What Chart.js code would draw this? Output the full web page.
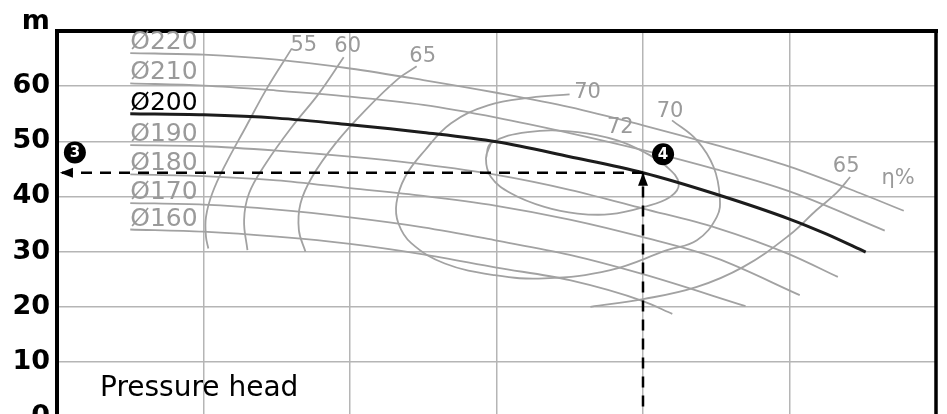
<!DOCTYPE html>
<html>
<head>
<meta charset="utf-8">
<script src="https://cdn.jsdelivr.net/npm/chart.js@4/dist/chart.umd.min.js"></script>
<style>
  html, body { margin: 0; padding: 0; background: #fff; overflow: hidden; }
  #wrap { width: 947px; height: 446px; }
</style>
</head>
<body>
<div id="wrap"><canvas id="c" width="947" height="446"></canvas></div>
<script>
// Axis ranges (flow Q in m³/h, head H in m)
const flowTicks = [0, 10, 20, 30, 40, 50, 60];
const headTicks = [0, 10, 20, 30, 40, 50, 60, 70];

// Impeller diameters and their Q-H curves
const impellers = ['Ø220', 'Ø210', 'Ø200', 'Ø190', 'Ø180', 'Ø170', 'Ø160'];
const q220 = [5, 10, 15, 20, 25, 30, 35, 40, 45, 50, 55, 57.8];
const h220 = [66.0, 65.7, 64.8, 63.2, 61.1, 58.8, 56.2, 52.9, 49.3, 45.4, 40.4, 37.4];
const q210 = [5, 10, 15, 20, 25, 30, 35, 40, 45, 50, 56.5];
const h210 = [60.5, 60.1, 59.2, 58.1, 56.6, 54.3, 51.5, 48.4, 44.9, 40.9, 33.8];
const q200 = [5, 10, 15, 20, 25, 30, 35, 40, 45, 50, 52.5, 55.2];
const h200 = [55.0, 54.8, 54.2, 53.0, 51.6, 49.9, 47.2, 44.3, 40.4, 35.9, 33.2, 29.9];
const q190 = [5, 10, 15, 20, 25, 30, 35, 40, 45, 50, 53.3];
const h190 = [49.3, 49.1, 48.3, 47.2, 45.8, 43.9, 41.2, 37.8, 34.3, 29.5, 25.4];
const q180 = [5, 10, 15, 20, 25, 30, 35, 40, 45, 50.7];
const h180 = [44.0, 43.7, 42.9, 41.5, 40.1, 38.3, 35.8, 32.6, 28.8, 22.1];
const q170 = [5, 10, 15, 20, 25, 30, 35, 40, 47.0];
const h170 = [38.8, 38.5, 37.6, 36.2, 34.4, 32.0, 29.4, 25.9, 20.1];
const q160 = [5, 10, 15, 20, 25, 30, 35, 40, 42.0];
const h160 = [34.0, 33.6, 32.7, 31.4, 29.5, 27.1, 24.8, 21.0, 18.7];

// Iso-efficiency contours (η %)
const eta55Q = [16.03, 14.25, 12.89, 11.53, 10.60, 10.17, 10.17, 10.33];
const eta55H = [66.85, 59.24, 52.59, 45.96, 40.58, 36.29, 32.66, 30.56];
const eta60Q = [19.57, 17.87, 16.03, 14.25, 13.11, 12.77, 13.00];
const eta60H = [65.22, 58.64, 52.59, 45.96, 40.58, 35.69, 30.25];
const eta65aQ = [24.55, 23.30, 21.04, 19.00, 17.41, 16.62, 16.51, 16.96];
const eta65aH = [63.59, 61.36, 55.62, 49.58, 43.53, 38.71, 33.88, 29.95];
const eta70Q = [34.99, 32.34, 29.42, 26.90, 25.12, 23.76, 23.17, 23.30, 24.18, 26.47, 29.87, 33.27, 37.77, 41.64, 43.68, 45.04, 45.24, 44.82, 43.68, 41.98];
const eta70H = [58.51, 57.93, 56.52, 53.26, 48.37, 43.53, 38.77, 35.14, 31.52, 27.84, 25.72, 25.13, 26.63, 30.25, 32.07, 36.29, 39.91, 45.34, 50.18, 53.80];
const eta72Q = [29.28, 29.62, 32.13, 35.53, 38.25, 40.06, 41.64, 42.44, 41.85, 40.06, 37.77, 35.53, 33.27, 30.98, 29.62, 29.28, 29.62];
const eta72H = [46.92, 49.64, 51.68, 51.68, 50.18, 48.06, 45.34, 42.34, 39.91, 38.10, 36.78, 36.90, 38.10, 40.58, 43.53, 46.92, 49.64];
const eta65bQ = [36.41, 40.01, 43.68, 46.85, 50.00, 51.83, 53.19, 54.14];
const eta65bH = [19.98, 21.38, 23.60, 27.23, 33.00, 37.50, 40.58, 43.53];

// Duty point on the Ø200 curve and the numbered markers
const dutyQ = 40;
const dutyH = 44.3;
const markerQ = [1.22, 41.37];
const markerH = [47.97, 47.64];
const markerText = ['3', '4'];

const FONT = 'DejaVu Sans';
const GREY = '#a2a2a2';
const GREY_TXT = '#9a9a9a';

const pts = (q, h) => q.map((v, i) => ({ x: v, y: h[i] }));

const impellerData = [
  [q220, h220], [q210, h210], [q200, h200], [q190, h190],
  [q180, h180], [q170, h170], [q160, h160]
];

const datasets = [];

// numbered markers
datasets.push({
  type: 'scatter',
  data: pts(markerQ, markerH),
  pointRadius: 11,
  pointHoverRadius: 11,
  pointBackgroundColor: '#000',
  pointBorderWidth: 0,
  markerText: markerText,
  order: 0
});

// reading arrows from the duty point
datasets.push({
  data: [{ x: dutyQ, y: dutyH }, { x: 0.2, y: dutyH }],
  borderColor: '#000', borderWidth: 2.5, borderDash: [11, 8],
  pointRadius: 0, arrowHead: true, order: 1
});
datasets.push({
  data: [{ x: dutyQ, y: -5 }, { x: dutyQ, y: dutyH }],
  borderColor: '#000', borderWidth: 2.5, borderDash: [11, 8],
  pointRadius: 0, arrowHead: true, order: 1
});

impellerData.forEach(([q, h], i) => {
  const main = impellers[i] === 'Ø200';
  datasets.push({
    data: pts(q, h),
    borderColor: main ? '#1c1c1c' : GREY,
    borderWidth: main ? 3 : 1.8,
    cubicInterpolationMode: 'monotone',
    pointRadius: 0,
    impLabel: impellers[i],
    order: main ? 2 : 5
  });
});

// efficiency contours with their label placements (pixel offsets from an anchor point)
const etaCurves = [
  { q: eta55Q, h: eta55H, labels: [{ text: '55', idx: 0, dx: 12, dy: -3 }] },
  { q: eta60Q, h: eta60H, labels: [{ text: '60', idx: 0, dx: 4, dy: -11 }] },
  { q: eta65aQ, h: eta65aH, labels: [{ text: '65', idx: 0, dx: 6, dy: -10 }] },
  { q: eta70Q, h: eta70H, labels: [{ text: '70', idx: 0, dx: 18, dy: -2 }, { text: '70', idx: -1, dx: -2, dy: -9 }] },
  { q: eta72Q, h: eta72H, labels: [{ text: '72', idx: 4, dx: 3, dy: -13 }] },
  { q: eta65bQ, h: eta65bH, labels: [{ text: '65', idx: -1, dx: -4, dy: -10 }, { text: 'η%', idx: -1, dx: 48, dy: 2 }] }
];
etaCurves.forEach(c => {
  datasets.push({
    data: pts(c.q, c.h),
    borderColor: GREY,
    borderWidth: 1.8,
    tension: 0.4,
    pointRadius: 0,
    etaLabels: c.labels,
    order: 6
  });
});

// frame: heavy top and right edges of the plot area
const framePlugin = {
  id: 'frame',
  beforeDatasetsDraw(chart) {
    const { ctx, chartArea: a } = chart;
    ctx.save();
    ctx.strokeStyle = '#000';
    ctx.lineWidth = 4;
    ctx.beginPath();
    ctx.moveTo(a.left - 2, a.top);
    ctx.lineTo(a.right + 2, a.top);
    ctx.stroke();
    ctx.lineWidth = 3.5;
    ctx.beginPath();
    ctx.moveTo(a.right, a.top);
    ctx.lineTo(a.right, chart.height);
    ctx.stroke();
    ctx.restore();
  }
};

// labels, marker digits and arrow heads
const textPlugin = {
  id: 'texts',
  afterDatasetsDraw(chart) {
    const { ctx, chartArea: a, scales } = chart;
    const xs = scales.x, ys = scales.y;
    ctx.save();

    chart.data.datasets.forEach((ds, di) => {
      const meta = chart.getDatasetMeta(di);
      if (ds.arrowHead) {
        const els = meta.data;
        const p1 = els[els.length - 1], p0 = els[els.length - 2];
        let dx = p1.x - p0.x, dy = p1.y - p0.y;
        const len = Math.hypot(dx, dy) || 1;
        dx /= len; dy /= len;
        const L = 13, W = 5;
        const bx = p1.x - dx * L, by = p1.y - dy * L;
        ctx.fillStyle = '#000';
        ctx.beginPath();
        ctx.moveTo(p1.x, p1.y);
        ctx.lineTo(bx - dy * W, by + dx * W);
        ctx.lineTo(bx + dy * W, by - dx * W);
        ctx.closePath();
        ctx.fill();
      }
      if (ds.impLabel) {
        const p = ds.data[0];
        ctx.font = '25px "' + FONT + '"';
        ctx.fillStyle = ds.impLabel === 'Ø200' ? '#000' : GREY_TXT;
        ctx.textAlign = 'left';
        ctx.textBaseline = 'alphabetic';
        ctx.fillText(ds.impLabel, xs.getPixelForValue(p.x), ys.getPixelForValue(p.y) - 4);
      }
      if (ds.etaLabels) {
        ctx.font = '21px "' + FONT + '"';
        ctx.fillStyle = GREY_TXT;
        ctx.textAlign = 'center';
        ctx.textBaseline = 'middle';
        ds.etaLabels.forEach(l => {
          const p = ds.data[l.idx < 0 ? ds.data.length + l.idx : l.idx];
          ctx.fillText(l.text, xs.getPixelForValue(p.x) + l.dx, ys.getPixelForValue(p.y) + l.dy);
        });
      }
      if (ds.markerText) {
        ctx.font = 'bold 15px "' + FONT + '"';
        ctx.fillStyle = '#fff';
        ctx.textAlign = 'center';
        ctx.textBaseline = 'middle';
        meta.data.forEach((el, i) => ctx.fillText(ds.markerText[i], el.x, el.y + 0.5));
      }
    });

    // unit of the head axis
    ctx.fillStyle = '#000';
    ctx.font = 'bold 27px "' + FONT + '"';
    ctx.textAlign = 'right';
    ctx.textBaseline = 'alphabetic';
    ctx.fillText('m', a.left - 7, a.top - 2);

    // chart caption
    ctx.font = '28px "' + FONT + '"';
    ctx.textAlign = 'left';
    ctx.fillText('Pressure head', a.left + 43, a.bottom - 21);

    ctx.restore();
  }
};

new Chart(document.getElementById('c'), {
  type: 'line',
  data: { datasets },
  options: {
    responsive: false,
    animation: false,
    events: [],
    layout: { padding: { left: 0, top: 31, right: 7, bottom: 29 } },
    plugins: { legend: { display: false }, tooltip: { enabled: false } },
    scales: {
      x: {
        type: 'linear',
        min: flowTicks[0],
        max: flowTicks[flowTicks.length - 1],
        afterBuildTicks: s => { s.ticks = flowTicks.map(v => ({ value: v })); },
        afterFit: s => { s.height = 0; },
        ticks: { display: false },
        grid: { color: '#b5b5b5', lineWidth: 1.5, drawTicks: false },
        border: { display: false }
      },
      y: {
        type: 'linear',
        min: headTicks[0],
        max: headTicks[headTicks.length - 1],
        afterBuildTicks: s => { s.ticks = headTicks.map(v => ({ value: v })); },
        afterFit: s => { s.width = 57; },
        ticks: {
          padding: 7,
          color: '#000',
          font: { family: FONT, weight: 'bold', size: 27 },
          callback: v => (v === 70 ? '' : String(v))
        },
        grid: { color: '#b5b5b5', lineWidth: 1.5, drawTicks: false },
        border: { display: true, color: '#000', width: 4 }
      }
    }
  },
  plugins: [framePlugin, textPlugin]
});
</script>
</body>
</html>
